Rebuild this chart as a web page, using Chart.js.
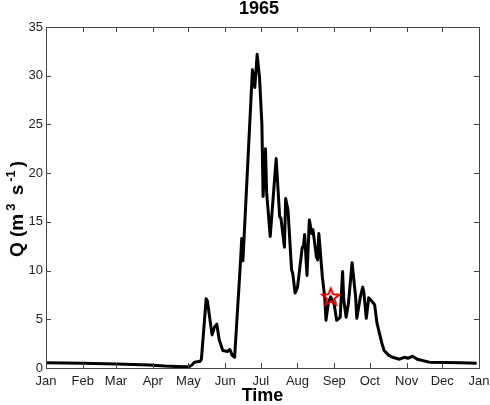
<!DOCTYPE html>
<html lang="en">
  <head>
    <meta charset="UTF-8" />
    <title>1965</title>
    <style>
      html, body { margin: 0; padding: 0; background: #fff; }
      #wrap { width: 490px; height: 405px; }
    </style>
  </head>
  <body>
    <div id="wrap"><canvas id="myChart"></canvas></div>

    <script src="https://cdn.jsdelivr.net/npm/chart.js"></script>
    <script>
      // day of year for each month start, plus the next Jan 1
      const monthDays = [0, 31, 59, 90, 120, 151, 181, 212, 243, 273, 304, 334, 365];
      const monthNames = ['Jan', 'Feb', 'Mar', 'Apr', 'May', 'Jun', 'Jul', 'Aug', 'Sep', 'Oct', 'Nov', 'Dec', 'Jan'];
      const yTicks = [0, 5, 10, 15, 20, 25, 30, 35];

      // discharge: day of year / Q
      const days = [0, 31, 60, 87, 100, 117, 121, 123, 125, 130, 131, 133, 135, 136, 140, 142, 144, 146, 149, 153, 155, 157, 159,
        164, 165, 166, 174, 176, 178, 180, 182, 183, 185, 186, 189, 194, 197, 198, 201, 202, 204, 207, 208, 210, 212, 213,
        216, 217, 218, 220, 222, 224, 225, 228, 229, 230, 233, 235, 236, 238, 240, 243, 245, 248, 250, 251, 253, 255, 258,
        261, 262, 265, 267, 268, 270, 272, 275, 277, 279, 283, 285, 289, 292, 298, 302, 305, 309, 313, 323, 350, 363];
      const flow = [0.55, 0.5, 0.42, 0.3, 0.2, 0.12, 0.15, 0.3, 0.6, 0.7, 0.9, 4, 7.1, 6.9, 3.4, 4.2, 4.5, 2.9, 1.8, 1.7, 1.9, 1.3, 1.1,
        11, 13.3, 11, 30.6, 28.8, 32.2, 29.8, 25, 17.6, 22.5, 18, 13.5, 21.5, 15.5, 15.4, 12.4, 17.4, 16.2, 10.1, 9.7, 7.7, 8.3, 9.3,
        12.4, 12.4, 13.7, 9.5, 15.2, 13.8, 14.2, 11.4, 11.1, 13.8, 9.3, 7.2, 4.9, 6.7, 7.3, 6.5, 4.9, 5.2, 9.9, 7.0, 5.2, 6.7, 10.8,
        7.3, 5.1, 7.3, 8.3, 7.7, 5.1, 7.2, 6.8, 6.5, 4.6, 2.6, 1.8, 1.3, 1.1, 0.9, 1.1, 1.0, 1.2, 0.9, 0.6, 0.55, 0.5];

      const markDay = [240];
      const markFlow = [7.3];

      // five point star outline for the marker
      function starImage() {
        const c = document.createElement('canvas');
        c.width = 22; c.height = 22;
        const g = c.getContext('2d');
        g.strokeStyle = '#e00000';
        g.lineWidth = 2;
        g.beginPath();
        for (let i = 0; i < 10; i++) {
          const r = i % 2 == 0 ? 9 : 4;
          const a = -Math.PI / 2 + i * Math.PI / 5;
          const px = 11 + r * Math.cos(a), py = 11.5 + r * Math.sin(a);
          if (i == 0) g.moveTo(px, py); else g.lineTo(px, py);
        }
        g.closePath();
        g.stroke();
        return c;
      }

      // box round the plot with ticks pointing inwards
      const boxTicks = {
        id: 'boxTicks',
        afterDraw(chart) {
          const { ctx, chartArea: a, scales } = chart;
          ctx.save();
          ctx.strokeStyle = '#444';
          ctx.lineWidth = 1;
          ctx.strokeRect(a.left + 0.5, a.top + 0.5, a.right - a.left, a.bottom - a.top);
          ctx.beginPath();
          monthDays.forEach(d => {
            const x = Math.round(scales.x.getPixelForValue(d)) + 0.5;
            ctx.moveTo(x, a.bottom); ctx.lineTo(x, a.bottom - 5);
            ctx.moveTo(x, a.top); ctx.lineTo(x, a.top + 5);
          });
          yTicks.forEach(v => {
            const y = Math.round(scales.y.getPixelForValue(v)) + 0.5;
            ctx.moveTo(a.left, y); ctx.lineTo(a.left + 5, y);
            ctx.moveTo(a.right, y); ctx.lineTo(a.right - 5, y);
          });
          ctx.stroke();
          ctx.restore();
        }
      };

      // y title with real superscripts, drawn rotated
      const yTitle = {
        id: 'yTitle',
        afterDraw(chart) {
          const { ctx, chartArea: a } = chart;
          const parts = [
            ['Q (m', 19, 0], ['3', 13, -8], [' s', 19, 0], ['-1', 13, -8], [')', 19, 0]
          ];
          const gap = 3;
          ctx.save();
          ctx.fillStyle = '#000';
          ctx.textBaseline = 'alphabetic';
          let total = 0;
          parts.forEach(p => {
            ctx.font = 'bold ' + p[1] + 'px "Liberation Sans"';
            total += ctx.measureText(p[0]).width + gap;
          });
          ctx.translate(23, (a.top + a.bottom) / 2 + 10);
          ctx.rotate(-Math.PI / 2);
          let x = -total / 2;
          parts.forEach(p => {
            ctx.font = 'bold ' + p[1] + 'px "Liberation Sans"';
            ctx.fillText(p[0], x, p[2]);
            x += ctx.measureText(p[0]).width + gap;
          });
          ctx.restore();
        }
      };

      const tickFont = { family: 'Liberation Sans', size: 13 };

      new Chart(document.getElementById('myChart'), {
        type: 'line',
        data: {
          datasets: [
            {
              data: markDay.map((d, i) => ({ x: d, y: markFlow[i] })),
              showLine: false,
              pointStyle: starImage(),
              pointRadius: 10,
            },
            {
              data: days.map((d, i) => ({ x: d, y: flow[i] })),
              borderColor: '#000',
              borderWidth: 3,
              pointRadius: 0,
              tension: 0,
              borderJoinStyle: 'round',
            }
          ]
        },
        options: {
          responsive: true,
          maintainAspectRatio: false,
          animation: false,
          layout: { padding: { left: 28, right: 0, top: 0, bottom: 0 } },
          plugins: {
            legend: { display: false },
            tooltip: { enabled: false },
            title: {
              display: true,
              text: '1965',
              color: '#000',
              font: { family: 'Liberation Sans', size: 18, weight: 'bold', lineHeight: 1.0 },
              padding: { top: 0, bottom: 9 }
            }
          },
          scales: {
            x: {
              type: 'linear',
              min: 0,
              max: 365,
              afterBuildTicks: s => { s.ticks = monthDays.map(v => ({ value: v })); },
              afterFit: s => { s.height = 37; s.paddingLeft = 0; s.paddingRight = 10; },
              ticks: {
                autoSkip: false,
                maxRotation: 0,
                color: '#222',
                font: tickFont,
                padding: 6,
                callback: (v, i) => monthNames[i]
              },
              grid: { display: false, drawTicks: false },
              border: { display: false },
              title: {
                display: true,
                text: 'Time',
                color: '#000',
                font: { family: 'Liberation Sans', size: 18, weight: 'bold', lineHeight: 1.0 },
                padding: { top: 0, bottom: 0 }
              }
            },
            y: {
              min: 0,
              max: 35,
              afterBuildTicks: s => { s.ticks = yTicks.map(v => ({ value: v })); },
              afterFit: s => { s.width = 18; s.paddingTop = 0; s.paddingBottom = 0; },
              ticks: { color: '#222', font: tickFont, padding: 3 },
              grid: { display: false, drawTicks: false },
              border: { display: false }
            }
          }
        },
        plugins: [boxTicks, yTitle]
      });
    </script>
  </body>
</html>
